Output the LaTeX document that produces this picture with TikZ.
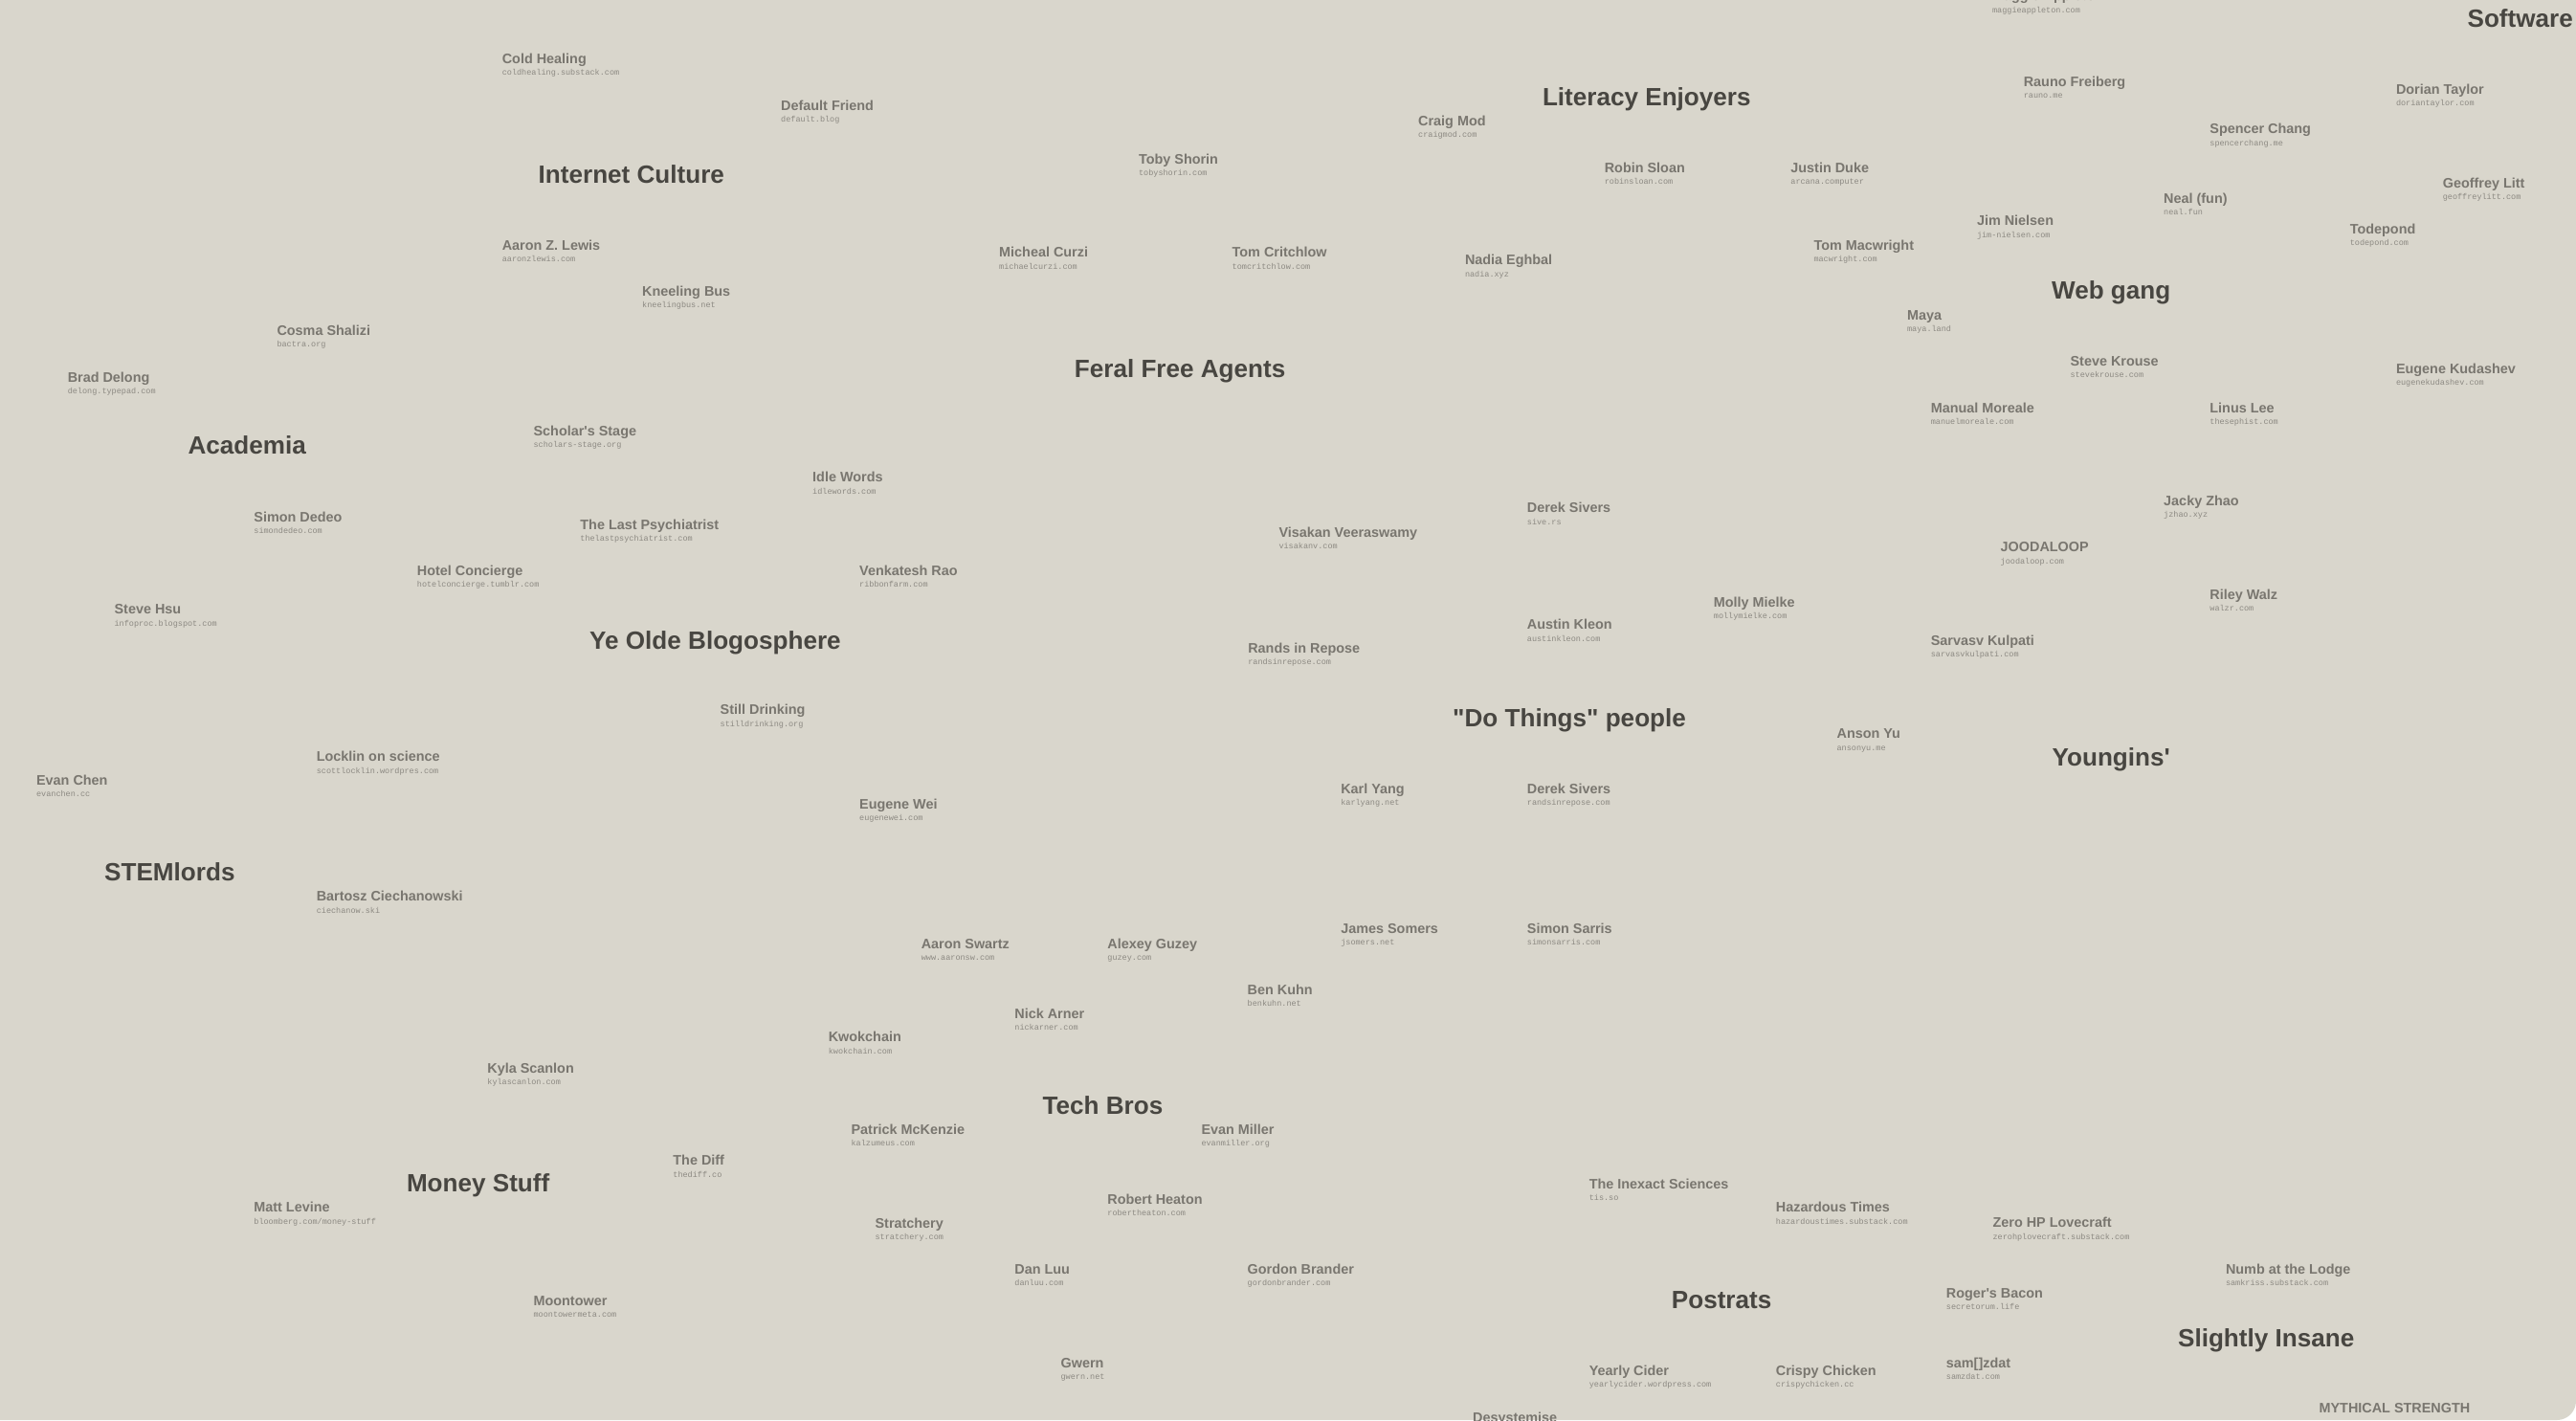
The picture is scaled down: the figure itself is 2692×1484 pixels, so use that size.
\documentclass[tikz,border=0pt]{standalone}
\usepackage{fontspec}
\newfontfamily\grpfont{Liberation Sans}
\newfontfamily\urlfont{Liberation Mono}
\definecolor{bgc}{RGB}{217,214,204}
\definecolor{grpc}{RGB}{72,70,65}
\definecolor{nmc}{RGB}{121,118,111}
\definecolor{urc}{RGB}{140,137,130}
\tikzset{
  grp/.style={font=\grpfont\bfseries\fontsize{26.1}{26.1}\selectfont, text=grpc, inner sep=0pt, anchor=base west},
  nm/.style={font=\grpfont\bfseries\fontsize{14.4}{14.4}\selectfont, text=nmc, inner sep=0pt, anchor=base west},
  ur/.style={font=\urlfont\fontsize{8.5}{8.5}\selectfont, text=urc, inner sep=0pt, anchor=base west}
}
\newcommand\site[5]{%
  \node[nm] (#1) at (#2,#3) {#4};
  \node[ur] (#1-u) at ([yshift=-12.7pt]#1.base west) {#5};}
\begin{document}
\begin{tikzpicture}[x=1pt,y=-1pt]
\useasboundingbox (0,0) rectangle (2692,1484);
\fill[white] (0,0) rectangle (2692,1484);
\fill[bgc] (0,0) -- (2692,0) -- (2692,1464) to[out=-90,in=0] (2672,1484) -- (0,1484) -- cycle;
\clip (0,0) rectangle (2692,1484);
% group headings
\node[grp] (g-internet) at (562.5,191) {Internet Culture};
\node[grp] (g-literacy) at (1611.8,110) {Literacy Enjoyers};
\node[grp] (g-software) at (2578.4,28.3) {Software};
\node[grp] (g-feral) at (1122.7,394) {Feral Free Agents};
\node[grp] (g-web) at (2143.9,312.7) {Web gang};
\node[grp] (g-academia) at (196.3,474.3) {Academia};
\node[grp] (g-olde) at (616,678.3) {Ye Olde Blogosphere};
\node[grp] (g-do) at (1518,759) {"Do Things" people};
\node[grp] (g-young) at (2144.4,800) {Youngins'};
\node[grp] (g-stem) at (109,920.7) {STEMlords};
\node[grp] (g-tech) at (1089.4,1164) {Tech Bros};
\node[grp] (g-money) at (424.8,1245) {Money Stuff};
\node[grp] (g-postrats) at (1746.7,1367.3) {Postrats};
\node[grp] (g-insane) at (2275.9,1407.3) {Slightly Insane};
% sites
\site{cold}{524.6}{66}{Cold Healing}{coldhealing.substack.com}
\site{default}{816}{115}{Default Friend}{default.blog}
\site{aaronz}{524.6}{261}{Aaron Z. Lewis}{aaronzlewis.com}
\site{kneeling}{671}{309}{Kneeling Bus}{kneelingbus.net}
\site{cosma}{289.3}{350}{Cosma Shalizi}{bactra.org}
\site{toby}{1189.9}{171}{Toby Shorin}{tobyshorin.com}
\site{craig}{1482}{131}{Craig Mod}{craigmod.com}
\site{robin}{1676.6}{180}{Robin Sloan}{robinsloan.com}
\site{curzi}{1044}{268.7}{Micheal Curzi}{michaelcurzi.com}
\site{critchlow}{1287.5}{268.7}{Tom Critchlow}{tomcritchlow.com}
\site{nadia}{1530.8}{276.7}{Nadia Eghbal}{nadia.xyz}
\site{maggie}{2081.9}{0.8}{Maggie Appleton}{maggieappleton.com}
\site{rauno}{2114.6}{90}{Rauno Freiberg}{rauno.me}
\site{dorian}{2503.8}{98}{Dorian Taylor}{doriantaylor.com}
\site{spencer}{2309.2}{139.3}{Spencer Chang}{spencerchang.me}
\site{justin}{1871.2}{180}{Justin Duke}{arcana.computer}
\site{geoffrey}{2552.6}{196}{Geoffrey Litt}{geoffreylitt.com}
\site{neal}{2261}{212}{Neal (fun)}{neal.fun}
\site{jim}{2065.8}{235.7}{Jim Nielsen}{jim-nielsen.com}
\site{todepond}{2455.6}{244}{Todepond}{todepond.com}
\site{macwright}{1895.3}{261}{Tom Macwright}{macwright.com}
\site{maya}{1992.9}{334}{Maya}{maya.land}
\site{krouse}{2163.4}{382}{Steve Krouse}{stevekrouse.com}
\site{kudashev}{2503.8}{390}{Eugene Kudashev}{eugenekudashev.com}
\site{moreale}{2017.6}{431}{Manual Moreale}{manuelmoreale.com}
\site{linus}{2309.2}{431}{Linus Lee}{thesephist.com}
\site{jacky}{2261}{528}{Jacky Zhao}{jzhao.xyz}
\site{joodaloop}{2090.5}{576.7}{JOODALOOP}{joodaloop.com}
\site{riley}{2309.2}{626}{Riley Walz}{walzr.com}
\site{molly}{1790.7}{634}{Molly Mielke}{mollymielke.com}
\site{sarvasv}{2017.6}{674}{Sarvasv Kulpati}{sarvasvkulpati.com}
\site{delong}{70.6}{399}{Brad Delong}{delong.typepad.com}
\site{scholars}{557.4}{455}{Scholar's Stage}{scholars-stage.org}
\site{idle}{849}{503.3}{Idle Words}{idlewords.com}
\site{dedeo}{265.2}{545}{Simon Dedeo}{simondedeo.com}
\site{lastpsych}{606.2}{553}{The Last Psychiatrist}{thelastpsychiatrist.com}
\site{hotel}{435.7}{601}{Hotel Concierge}{hotelconcierge.tumblr.com}
\site{hsu}{119.4}{641.7}{Steve Hsu}{infoproc.blogspot.com}
\site{still}{752.5}{746.7}{Still Drinking}{stilldrinking.org}
\site{venkatesh}{898}{601}{Venkatesh Rao}{ribbonfarm.com}
\site{visakan}{1336.3}{561}{Visakan Veeraswamy}{visakanv.com}
\site{sivers}{1595.7}{535.7}{Derek Sivers}{sive.rs}
\site{kleon}{1595.7}{657.7}{Austin Kleon}{austinkleon.com}
\site{rands}{1304.1}{682}{Rands in Repose}{randsinrepose.com}
\site{locklin}{330.6}{795.7}{Locklin on science}{scottlocklin.wordpres.com}
\site{evanchen}{37.9}{820}{Evan Chen}{evanchen.cc}
\site{eugenewei}{898}{845}{Eugene Wei}{eugenewei.com}
\site{bartosz}{330.6}{941.7}{Bartosz Ciechanowski}{ciechanow.ski}
\site{kwok}{865.6}{1088.3}{Kwokchain}{kwokchain.com}
\site{kyla}{509.2}{1121}{Kyla Scanlon}{kylascanlon.com}
\site{karl}{1401.1}{829}{Karl Yang}{karlyang.net}
\site{sivers2}{1595.7}{829}{Derek Sivers}{randsinrepose.com}
\site{swartz}{962.6}{991}{Aaron Swartz}{www.aaronsw.com}
\site{guzey}{1157.2}{991}{Alexey Guzey}{guzey.com}
\site{somers}{1401.1}{975}{James Somers}{jsomers.net}
\site{sarris}{1595.7}{975}{Simon Sarris}{simonsarris.com}
\site{kuhn}{1303.5}{1039}{Ben Kuhn}{benkuhn.net}
\site{arner}{1060.2}{1064}{Nick Arner}{nickarner.com}
\site{anson}{1919.4}{771.7}{Anson Yu}{ansonyu.me}
\site{patio}{889.4}{1185}{Patrick McKenzie}{kalzumeus.com}
\site{diff}{703.2}{1217.7}{The Diff}{thediff.co}
\site{levine}{265.2}{1266.7}{Matt Levine}{bloomberg.com/money-stuff}
\site{moontower}{557.4}{1364}{Moontower}{moontowermeta.com}
\site{evanmiller}{1255.3}{1185}{Evan Miller}{evanmiller.org}
\site{heaton}{1157.2}{1258}{Robert Heaton}{robertheaton.com}
\site{stratchery}{914.4}{1283}{Stratchery}{stratchery.com}
\site{danluu}{1060.2}{1331}{Dan Luu}{danluu.com}
\site{brander}{1303.5}{1331}{Gordon Brander}{gordonbrander.com}
\site{gwern}{1108.4}{1429}{Gwern}{gwern.net}
\site{inexact}{1660.6}{1242}{The Inexact Sciences}{tis.so}
\site{cider}{1660.6}{1437}{Yearly Cider}{yearlycider.wordpress.com}
\site{hazardous}{1855.7}{1266.7}{Hazardous Times}{hazardoustimes.substack.com}
\site{zerohp}{2082.4}{1282.7}{Zero HP Lovecraft}{zerohplovecraft.substack.com}
\site{numb}{2325.8}{1331}{Numb at the Lodge}{samkriss.substack.com}
\site{bacon}{2033.7}{1356}{Roger's Bacon}{secretorum.life}
\site{crispy}{1855.7}{1437}{Crispy Chicken}{crispychicken.cc}
\site{samzdat}{2033.7}{1429}{sam[]zdat}{samzdat.com}
\node[nm] (mythical) at (2423.4,1476) {MYTHICAL STRENGTH};
\node[nm] (desys) at (1538.9,1486) {Desystemise};
\end{tikzpicture}
\end{document}
